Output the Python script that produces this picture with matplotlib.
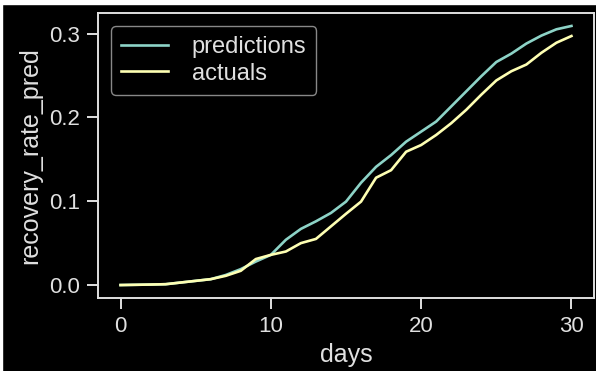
import matplotlib.pyplot as plt
from matplotlib.patches import Rectangle

plt.style.use('dark_background')
plt.rcParams['font.family'] = ['Liberation Sans', 'DejaVu Sans']

days = list(range(31))

predictions = [0.0, 0.0003, 0.0006, 0.001, 0.003, 0.005, 0.007, 0.012, 0.019, 0.028,
               0.036, 0.054, 0.067, 0.076, 0.086, 0.0995, 0.122, 0.141, 0.155, 0.171,
               0.183, 0.195, 0.213, 0.231, 0.249, 0.266, 0.276, 0.288, 0.2975, 0.305,
               0.309]

actuals = [0.0, 0.0003, 0.0006, 0.001, 0.003, 0.005, 0.007, 0.011, 0.017, 0.031,
           0.036, 0.040, 0.050, 0.055, 0.070, 0.085, 0.0995, 0.128, 0.137, 0.159,
           0.167, 0.179, 0.193, 0.209, 0.227, 0.244, 0.255, 0.263, 0.277, 0.289,
           0.297]

fig = plt.figure(figsize=(5.96, 3.71), dpi=100)
fig.patch.set_facecolor('black')
ax = fig.add_axes([98 / 596, 1 - 298 / 371, (594 - 98) / 596, (298 - 13) / 371])

ax.plot(days, predictions, color='#8dd3c7', lw=1.9, label='predictions')
ax.plot(days, actuals, color='#feffb3', lw=1.9, label='actuals')

ax.set_xlabel('days', fontsize=18, color='#e0e0e0', labelpad=4)
ax.set_ylabel('recovery_rate_pred', fontsize=18, color='#e0e0e0', labelpad=5)
ax.set_xticks([0, 10, 20, 30])
ax.set_yticks([0.0, 0.1, 0.2, 0.3])
ax.tick_params(labelsize=16, length=8, width=1.4, pad=5, colors='#e0e0e0')
for s in ax.spines.values():
    s.set_color('#e0e0e0')
    s.set_linewidth(1.4)

leg = ax.legend(loc='upper left', fontsize=17, handlelength=2.0, borderpad=0.42,
                labelspacing=0.2, handletextpad=1.0, borderaxespad=0.55,
                facecolor='black', edgecolor='#888888', framealpha=1)
for t in leg.get_texts():
    t.set_color('#e0e0e0')

# white strips at the top and left edge of the picture
fig.patches.append(Rectangle((0, 0), 2 / 596, 1, transform=fig.transFigure, color='white', zorder=10))
fig.patches.append(Rectangle((0, 1 - 4 / 371), 1, 4 / 371, transform=fig.transFigure, color='white', zorder=10))

fig.savefig('out.png', dpi=100, facecolor='black')
